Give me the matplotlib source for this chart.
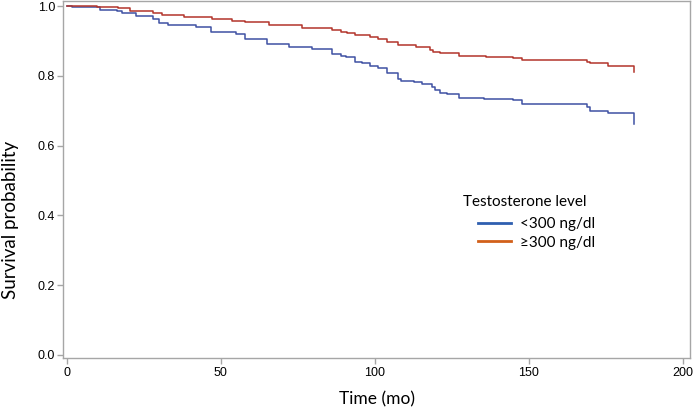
import matplotlib
matplotlib.use("Agg")
import matplotlib.pyplot as plt
from matplotlib.lines import Line2D

# Kaplan-Meier step data (time in months, survival probability)
low_times = [0, 1.6, 10.7, 16.2, 18, 22.6, 27.9, 30, 33, 41.9, 46.8, 54.8, 58, 65, 72,
             79.6, 86, 89, 90.5, 93.5, 96, 98.4, 101, 104, 107.5, 108.5, 112.6, 115.3,
             118.5, 119.6, 121, 123.3, 127.4, 135.5, 145, 147.8, 168.8, 169.8, 175.8, 184]
low_surv = [1.0, 0.996, 0.989, 0.986, 0.979, 0.972, 0.963, 0.951, 0.947, 0.939, 0.927,
            0.920, 0.906, 0.891, 0.884, 0.876, 0.863, 0.858, 0.855, 0.841, 0.836, 0.827,
            0.822, 0.809, 0.790, 0.786, 0.782, 0.777, 0.769, 0.760, 0.752, 0.747, 0.736,
            0.733, 0.730, 0.718, 0.710, 0.699, 0.693, 0.663]

high_times = [0, 9.7, 16.6, 20.4, 27.9, 31, 38.2, 47.2, 53.7, 58, 65.6, 76.3, 86, 89, 91,
              93.5, 98.4, 101, 104, 107.5, 113.3, 118, 119, 121, 127.4, 136, 145, 147.8,
              168.8, 169.8, 175.8, 184]
high_surv = [1.0, 0.997, 0.994, 0.986, 0.981, 0.974, 0.970, 0.963, 0.958, 0.954, 0.945,
             0.938, 0.932, 0.927, 0.924, 0.918, 0.910, 0.905, 0.897, 0.888, 0.884, 0.874,
             0.869, 0.865, 0.858, 0.855, 0.851, 0.846, 0.841, 0.836, 0.829, 0.810]

x_ticks = [0, 50, 100, 150, 200]
y_ticks = [0.0, 0.2, 0.4, 0.6, 0.8, 1.0]
legend_title = "Testosterone level"
legend_labels = ["<300 ng/dl", "\u2265300 ng/dl"]

curve_colors = ["#3f51a3", "#b3342b"]
legend_colors = ["#2f5fb0", "#d2601a"]
axis_gray = "#a6a6a6"

fig = plt.figure(figsize=(6.95, 4.09), dpi=100)
ax = fig.add_axes([63.3 / 695, 1 - 358.3 / 409, (690 - 63.3) / 695, 358.3 / 409 - 0.002])

ax.step(low_times, low_surv, where="post", color=curve_colors[0], lw=1.1)
ax.step(high_times, high_surv, where="post", color=curve_colors[1], lw=1.1)

ax.set_xlim(-1.1, 202.3)
ax.set_ylim(-0.0095, 1.015)
ax.set_xticks(x_ticks)
ax.set_yticks(y_ticks)
ax.set_xticklabels([str(v) for v in x_ticks], family="Liberation Sans", fontsize=9)
ax.set_yticklabels([f"{v:.1f}" for v in y_ticks], family="Liberation Sans", fontsize=9)
ax.tick_params(axis="both", direction="out", length=4, width=1, color=axis_gray,
               labelcolor="black", pad=2)
for sp in ax.spines.values():
    sp.set_color(axis_gray)
    sp.set_linewidth(1)

ax.set_xlabel("Time (mo)", family="Lato", fontsize=12.5, labelpad=9)
ax.set_ylabel("Survival probability", family="Lato", fontsize=13.5)
ax.yaxis.set_label_coords(-0.071, 0.386)

handles = [Line2D([0], [0], color=c, lw=2) for c in legend_colors]
leg = ax.legend(handles, legend_labels, loc="upper left",
                bbox_to_anchor=(477.7 / 695, 1 - 217 / 409), bbox_transform=fig.transFigure,
                frameon=False, borderpad=0, borderaxespad=0, handlelength=2.2,
                handletextpad=0.6, labelspacing=0.3,
                prop={"family": "Lato", "size": 11})
fig.text(463 / 695, 1 - 202 / 409, legend_title, family="Lato", fontsize=11,
         ha="left", va="center")

fig.savefig("out.png", dpi=100)
